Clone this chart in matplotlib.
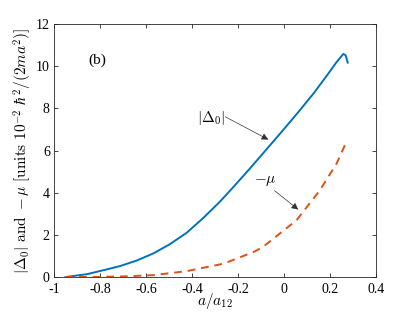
import numpy as np
import matplotlib
matplotlib.use("Agg")
import matplotlib.pyplot as plt

plt.rcParams['font.family'] = ['Liberation Serif', 'DejaVu Serif']
plt.rcParams['mathtext.fontset'] = 'cm'

# |Delta_0|
gap_x = [-0.95, -0.855, -0.783, -0.713, -0.641, -0.568, -0.496, -0.423, -0.351,
         -0.278, -0.22, -0.148, -0.075, -0.003, 0.062, 0.128, 0.186, 0.229,
         0.258, 0.268, 0.277]
gap_y = [0.0, 0.14, 0.33, 0.52, 0.78, 1.12, 1.56, 2.1, 2.8,
         3.58, 4.27, 5.15, 6.07, 6.98, 7.82, 8.7, 9.55, 10.2,
         10.58, 10.52, 10.17]

# -mu
mu_x = [-0.95, -0.8, -0.7, -0.568, -0.423, -0.278, -0.235, -0.13, -0.09,
        0.055, 0.157, 0.229, 0.268]
mu_y = [0.0, 0.01, 0.03, 0.09, 0.28, 0.6, 0.75, 1.2, 1.44,
        2.70, 4.13, 5.39, 6.33]

xticks = [-1, -0.8, -0.6, -0.4, -0.2, 0, 0.2, 0.4]
xlabels = ['-1', '-0.8', '-0.6', '-0.4', '-0.2', '0', '0.2', '0.4']
yticks = [0, 2, 4, 6, 8, 10, 12]

fig = plt.figure(figsize=(4.15, 3.12), dpi=100)
ax = fig.add_axes([0.130, 0.112, 0.776, 0.811])

ax.plot(gap_x, gap_y, color='#0072BD', lw=1.4)
ax.plot(mu_x, mu_y, color='#D95319', lw=1.4, ls=(0, (4, 3)))

ax.set_xlim(-1, 0.4)
ax.set_ylim(0, 12)
ax.set_xticks(xticks)
ax.set_xticklabels(xlabels)
ax.set_yticks(yticks)
ax.tick_params(direction='in', top=True, right=True, labelsize=10,
               length=3, width=0.6, colors='#262626', labelcolor='black')
ax.tick_params(axis='x', pad=4)
ax.tick_params(axis='y', pad=3)
for s in ax.spines.values():
    s.set_color('#262626')
    s.set_linewidth(0.6)

ax.set_xlabel(r'$a/a_{12}$', fontsize=11, labelpad=-3)
ax.set_ylabel(r'$|\Delta_0|\ \mathrm{and}\ -\mu\ [\mathrm{units}\ 10^{-2}\ \hbar^2/(2ma^2)]$',
              fontsize=11, labelpad=1)

ax.text(-0.81, 10.3, '(b)', fontsize=11, ha='center', va='center')

arrow = dict(arrowstyle='-|>', color='#333333', lw=0.5, mutation_scale=10,
             shrinkA=0, shrinkB=0)
ax.text(-0.317, 7.55, r'$|\Delta_0|$', fontsize=11, ha='center', va='center')
ax.annotate('', xy=(-0.068, 6.52), xytext=(-0.255, 7.6), arrowprops=arrow)
ax.text(-0.083, 4.55, r'$-\mu$', fontsize=11, ha='center', va='center')
ax.annotate('', xy=(0.062, 3.2), xytext=(-0.041, 4.1), arrowprops=arrow)

fig.savefig('out.png', dpi=100, facecolor='white')
